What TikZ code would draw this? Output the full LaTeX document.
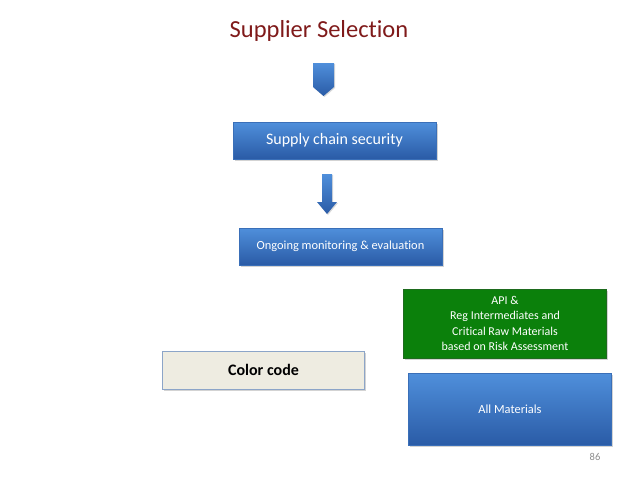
\documentclass[tikz,border=0pt]{standalone}
\usepackage{fontspec}
\setmainfont[Ligatures=NoCommon]{Carlito}
\usetikzlibrary{shadows}
\definecolor{titlered}{HTML}{7F1A1A}
\definecolor{bluetop}{HTML}{4F8FDB}
\definecolor{bluebot}{HTML}{2A5BA6}
\definecolor{blueline}{HTML}{3A6FB8}
\definecolor{greenfill}{HTML}{0B800B}
\definecolor{greenline}{HTML}{1E6B1E}
\definecolor{codefill}{HTML}{EEECE1}
\definecolor{codeline}{HTML}{8CA5C8}
\definecolor{pagegray}{HTML}{8C8C8C}
\tikzset{
  bluebox/.style={draw=blueline, line width=0.5pt, top color=bluetop, bottom color=bluebot,
    text=white, inner sep=0pt, drop shadow={shadow xshift=1.5pt, shadow yshift=-1.5pt, opacity=0.35}},
  greenbox/.style={draw=greenline, line width=0.5pt, fill=greenfill, text=white, inner sep=0pt,
    align=center, drop shadow={shadow xshift=1.5pt, shadow yshift=-1.5pt, opacity=0.35}},
  codebox/.style={draw=codeline, line width=1pt, fill=codefill, inner sep=0pt,
    drop shadow={shadow xshift=1.5pt, shadow yshift=-1.5pt, opacity=0.35}},
  blockarrow/.style={draw=none, top color=bluetop, bottom color=bluebot,
    drop shadow={shadow xshift=1pt, shadow yshift=-1pt, opacity=0.3}},
}
\begin{document}
\begin{tikzpicture}[x=1pt,y=-1pt]
\useasboundingbox (0,0) rectangle (638,479);
\node[text=titlered, font=\fontsize{24.5}{28}\selectfont] (title) at (319,31) {Supplier Selection};
% top chevron arrow
\path[blockarrow] (313,63) -- (334,63) -- (334,87) -- (323.5,96) -- (313,87) -- cycle;
\node[bluebox, minimum width=203pt, minimum height=37pt, font=\fontsize{16}{19}\selectfont] (scs) at (334.5,140.5) {Supply chain security};
% down arrow
\path[blockarrow] (322,174) -- (332,174) -- (332,202) -- (337,202) -- (327,214) -- (317,202) -- (322,202) -- cycle;
\node[bluebox, minimum width=203pt, minimum height=37pt, font=\fontsize{12.4}{15}\selectfont] (mon) at (340.5,246.5) {Ongoing monitoring \& evaluation};
\node[greenbox, minimum width=203pt, minimum height=69pt, font=\fontsize{12}{15.5}\selectfont] (api) at (505,323.5) {API \&\\Reg Intermediates and\\Critical Raw Materials\\based on Risk Assessment};
\node[codebox, minimum width=202pt, minimum height=38pt, font=\bfseries\fontsize{16}{19}\selectfont] (code) at (263.5,370) {Color code};
\node[bluebox, minimum width=203pt, minimum height=72pt, font=\fontsize{12.4}{15}\selectfont] (all) at (510,409.5) {All Materials};
\node[text=pagegray, font=\fontsize{10.5}{12}\selectfont] (page) at (595,457) {86};
\end{tikzpicture}
\end{document}
